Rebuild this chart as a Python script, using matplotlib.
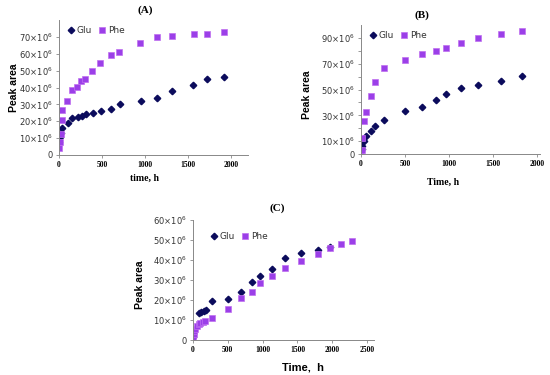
import numpy as np
import matplotlib
matplotlib.use('Agg')
import matplotlib.pyplot as plt

# Panel A data (time in h, peak area in units of 10^6)
a_glu_t = [5, 15, 25, 35, 100, 150, 217, 268, 316, 394, 485, 611, 706, 951, 1140, 1314, 1558, 1728, 1925]
a_glu_v = [8, 10.8, 12.8, 16.2, 19.1, 21.7, 22.7, 23.3, 24.3, 25, 26.2, 27, 30, 32.1, 33.9, 37.9, 41.4, 44.8, 46.2]
a_phe_t = [5, 15, 25, 30, 40, 95, 146, 205, 260, 308, 387, 481, 611, 698, 947, 1136, 1310, 1570, 1724, 1925]
a_phe_v = [4.3, 8, 12.5, 20.7, 26.6, 32, 38.3, 40.4, 43.8, 44.8, 49.7, 54.8, 59.4, 61.1, 66.5, 69.8, 70.6, 72, 72, 72.8]

# Panel B data
b_glu_t = [0, 8, 15, 30, 57, 118, 159, 258, 501, 694, 846, 968, 1131, 1332, 1583, 1825]
b_glu_v = [2, 3.8, 6, 10, 14, 18, 22, 26.7, 33.5, 36.6, 41.6, 46.3, 50.8, 53.4, 56.5, 60.2]
b_phe_t = [0, 8, 15, 34, 57, 118, 159, 258, 501, 694, 846, 968, 1131, 1332, 1583, 1825]
b_phe_v = [1.5, 3, 12.5, 25.5, 32.5, 45, 56, 66.5, 72.6, 77.4, 80, 82.5, 86, 90.3, 92.8, 95.2]

# Panel C data
c_glu_t = [0, 81, 120, 153, 187, 268, 504, 696, 845, 965, 1128, 1316, 1550, 1795, 1964]
c_glu_v = [1.5, 13.3, 14.2, 14.5, 15, 19.5, 20.7, 24.2, 28.8, 32.2, 35.7, 41.2, 43.7, 45, 46.7]
c_phe_t = [0, 10, 20, 33, 57, 80, 105, 139, 177, 268, 504, 696, 845, 965, 1128, 1316, 1550, 1795, 1964, 2122, 2291]
c_phe_v = [1.5, 3, 4.5, 5.5, 7, 7.8, 8.3, 8.8, 9.5, 11.2, 15.3, 20.8, 24.2, 28.7, 32.2, 35.8, 39.7, 43, 45.8, 47.8, 49.5]

glu_color = '#0B0B5C'
phe_color = '#9B3FE8'
W, H = 550.0, 375.0


def px_axes(fig, left, top, right, bottom):
    """Add axes given pixel box (top-left origin)."""
    return fig.add_axes([left / W, 1 - bottom / H, (right - left) / W, (bottom - top) / H])


def style_panel(ax, t_glu, v_glu, t_phe, v_phe, xlim, ylim, yticks, ylabels, xticks,
                leg_anchor=(0.0, 1.0)):
    ax.plot(t_glu, np.array(v_glu) * 1e6, linestyle='none', marker='D', ms=3.3,
            color=glu_color, label='Glu')
    ax.plot(t_phe, np.array(v_phe) * 1e6, linestyle='none', marker='s', ms=4.6,
            color=phe_color, markeredgecolor='#C070F0', markeredgewidth=0.5, label='Phe')
    ax.set_xlim(*xlim)
    ax.set_ylim(*ylim)
    ax.set_yticks([y * 1e6 for y in yticks])
    ax.set_yticklabels(ylabels, fontsize=6, color='#333333')
    ax.set_xticks(xticks)
    ax.set_xticklabels([str(x) for x in xticks], fontsize=5.5, fontweight='bold',
                       family='Liberation Serif')
    for s in ['top', 'right']:
        ax.spines[s].set_visible(False)
    for s in ['left', 'bottom']:
        ax.spines[s].set_color('#888888')
        ax.spines[s].set_linewidth(0.7)
    ax.tick_params(length=2.5, width=0.6, color='#888888', pad=2)
    ax.patch.set_alpha(0)
    leg = ax.legend(loc='upper left', ncol=2, frameon=False, fontsize=6.5,
                    handletextpad=0.0, columnspacing=0.6, handlelength=1.2,
                    borderaxespad=0.3, bbox_to_anchor=leg_anchor)
    for txt in leg.get_texts():
        txt.set_color('#333333')
    return ax


def ylab(v):
    return '0' if v == 0 else r'%d$\times$10$^{6}$' % v


fig = plt.figure(figsize=(W / 100, H / 100), dpi=100)

# (A)
axA = px_axes(fig, 59, 20, 248, 155)
yA = [0, 10, 20, 30, 40, 50, 60, 70]
style_panel(axA, a_glu_t, a_glu_v, a_phe_t, a_phe_v, (0, 2200), (0, 80e6),
            yA, [ylab(v) for v in yA], [0, 500, 1000, 1500, 2000])

# (B)
axB = px_axes(fig, 361, 25, 540, 154)
yB = [0, 10, 30, 50, 70, 90]
style_panel(axB, b_glu_t, b_glu_v, b_phe_t, b_phe_v, (0, 2030), (0, 100e6),
            yB, [ylab(v) for v in yB], [0, 500, 1000, 1500, 2000])
axB.set_yticks([v * 1e6 for v in [20, 40, 60, 80]], minor=True)
axB.tick_params(which='minor', length=2.5, width=0.6, color='#888888')

# (C)
axC = px_axes(fig, 193, 220, 374, 340)
yC = [0, 10, 20, 30, 40, 50, 60]
style_panel(axC, c_glu_t, c_glu_v, c_phe_t, c_phe_v, (0, 2600), (0, 60e6),
            yC, [ylab(v) for v in yC], [0, 500, 1000, 1500, 2000, 2500],
            leg_anchor=(0.05, 0.95))

# panel titles
for label, x, y in [('(A)', 145, 10), ('(B)', 422, 15), ('(C)', 277, 208)]:
    fig.text(x / W, 1 - y / H, label, ha='center', va='center', fontsize=8,
             fontweight='bold', family='Liberation Serif')

# y labels
for x, y in [(14, 88), (307, 95), (140, 285)]:
    fig.text(x / W, 1 - y / H, 'Peak area', rotation=90, ha='center', va='center',
             fontsize=7.5, fontweight='bold', family='Liberation Sans')

# x labels
fig.text(145 / W, 1 - 178 / H, 'time, h', ha='center', va='center', fontsize=7,
         fontweight='bold', family='Liberation Serif')
fig.text(443 / W, 1 - 182 / H, 'Time, h', ha='center', va='center', fontsize=7,
         fontweight='bold', family='Liberation Serif')
fig.text(303 / W, 1 - 367 / H, 'Time,  h', ha='center', va='center', fontsize=8,
         fontweight='bold', family='Liberation Sans')

fig.savefig('out.png', dpi=100)
